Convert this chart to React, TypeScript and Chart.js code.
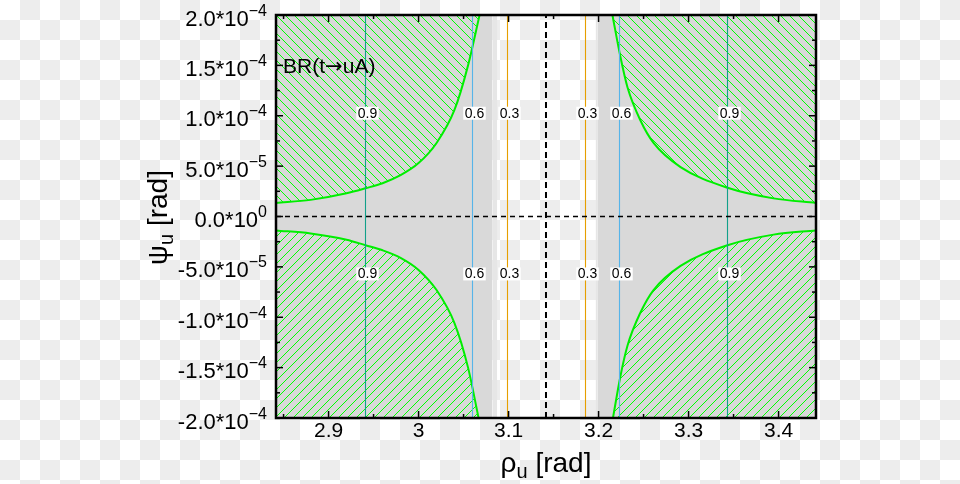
import React, { useEffect, useRef } from 'react';
import { Chart, registerables } from 'chart.js';

Chart.register(...registerables);

const FONT = '"Liberation Sans", Arial, Helvetica, sans-serif';

// ---- axes ----
const xRange = [2.8416, 3.4416];
const yRange = [-2e-4, 2e-4];
const xTickValues = [2.9, 3.0, 3.1, 3.2, 3.3, 3.4];
const xTickLabels = ['2.9', '3', '3.1', '3.2', '3.3', '3.4'];
const xMinorTicks = [2.85, 2.95, 3.05, 3.15, 3.25, 3.35];
const yTickValues = [2e-4, 1.5e-4, 1e-4, 5e-5, 0, -5e-5, -1e-4, -1.5e-4, -2e-4];
const yTickMantissas = ['2.0', '1.5', '1.0', '5.0', '0.0', '-5.0', '-1.0', '-1.5', '-2.0'];
const yTickExponents = ['\u22124', '\u22124', '\u22124', '\u22125', '0', '\u22125', '\u22124', '\u22124', '\u22124'];
const yMinorTicks = [1.75e-4, 1.25e-4, 7.5e-5, 2.5e-5, -2.5e-5, -7.5e-5, -1.25e-4, -1.75e-4];

// ---- shaded bands (excluded region outside central strip) ----
const grayBands = [[2.8416, 3.082], [3.1992, 3.4416]];
const lightBands = [[3.082, 3.0874], [3.1967, 3.1992]];

// ---- boundary curves of the hatched regions ----
const topLeftX = [2.8416, 2.88, 2.92, 2.9411, 2.96, 2.98, 3.0, 3.02, 3.04, 3.055, 3.0678];
const topLeftY = [1.35e-5, 1.65e-5, 2.3e-5, 2.8e-5, 3.3e-5, 4.1e-5, 5.3e-5, 7.3e-5, 1.06e-4, 1.5e-4, 2.0e-4];
const topRightX = [3.2154, 3.2244, 3.2322, 3.2467, 3.2611, 3.2911, 3.3433, 3.3944, 3.4416];
const topRightY = [2.0e-4, 1.58e-4, 1.28e-4, 9.5e-5, 7.3e-5, 4.9e-5, 2.85e-5, 1.8e-5, 1.35e-5];
const bottomLeftX = [2.8416, 2.88, 2.92, 2.9411, 2.96, 2.98, 3.0, 3.02, 3.04, 3.055, 3.0667];
const bottomLeftY = [-1.38e-5, -1.68e-5, -2.3e-5, -2.85e-5, -3.35e-5, -4.1e-5, -5.3e-5, -7.3e-5, -1.06e-4, -1.5e-4, -2.0e-4];
const bottomRightX = [3.216, 3.2244, 3.2322, 3.2467, 3.2611, 3.2911, 3.3433, 3.3944, 3.4416];
const bottomRightY = [-2.0e-4, -1.58e-4, -1.28e-4, -9.5e-5, -7.3e-5, -4.9e-5, -2.85e-5, -1.8e-5, -1.38e-5];

// ---- BR contour lines ----
const contourLevels = ['0.9', '0.6', '0.3', '0.3', '0.6', '0.9'];
const contourX = [2.94104, 3.05993, 3.09882, 3.18549, 3.22327, 3.34327];
const contourLabelY = [1.025e-4, -5.7e-5];
const levelColors: Record<string, string> = { '0.9': '#12a08a', '0.6': '#56b4e9', '0.3': '#e69f00' };

const piValue = 3.14159;
const brParts = ['BR(t', '\u2192', 'uA)'];

function makeHatch(dir: 'down' | 'up', color: string, size: number) {
  const c = document.createElement('canvas');
  c.width = size;
  c.height = size;
  const g = c.getContext('2d')!;
  g.fillStyle = color;
  for (let i = 0; i < size; i++) {
    g.fillRect(dir === 'down' ? i : size - 1 - i, i, 1, 1);
  }
  return g.createPattern(c, 'repeat')!;
}

const pts = (xs: number[], ys: number[]) => xs.map((x, i) => ({ x, y: ys[i] }));

export default function App() {
  const ref = useRef<HTMLCanvasElement>(null);

  useEffect(() => {
    const canvas = ref.current!;
    const hatchDown = makeHatch('down', '#00ff00', 9);
    const hatchUp = makeHatch('up', '#00ff00', 9);
    const none = 'rgba(0,0,0,0)';

    const bandSets = [
      ...grayBands.map(([a, b]) => ({ c: '#d9d9d9', a, b })),
      ...lightBands.map(([a, b]) => ({ c: '#e6e6e6', a, b })),
    ].map((s) => ({
      data: [{ x: s.a, y: yRange[1] }, { x: s.b, y: yRange[1] }],
      fill: 'start',
      backgroundColor: s.c,
      borderColor: none,
      borderWidth: 1,
      pointRadius: 0,
      order: 10,
    }));

    const hatchSet = (xs: number[], ys: number[], fill: string, pat: CanvasPattern) => ({
      data: pts(xs, ys),
      fill,
      backgroundColor: pat,
      borderColor: '#00ee00',
      borderWidth: 2,
      pointRadius: 0,
      cubicInterpolationMode: 'monotone',
      order: 8,
    });

    const contourSets = contourX.map((v, i) => ({
      data: [{ x: v, y: yRange[0] }, { x: v, y: yRange[1] }],
      fill: false,
      borderColor: levelColors[contourLevels[i]],
      borderWidth: 1.1,
      pointRadius: 0,
      order: 5,
    }));

    const dashedSets = [
      {
        data: [{ x: xRange[0], y: 0 }, { x: xRange[1], y: 0 }],
        fill: false,
        borderColor: '#000',
        borderWidth: 1.5,
        borderDash: [5, 4],
        pointRadius: 0,
        order: 1,
      },
      {
        data: [{ x: piValue, y: yRange[0] }, { x: piValue, y: yRange[1] }],
        fill: false,
        borderColor: '#000',
        borderWidth: 2,
        borderDash: [6, 4],
        pointRadius: 0,
        order: 1,
      },
    ];

    const overlay = {
      id: 'overlay',
      afterDatasetsDraw(chart: any) {
        const ctx: CanvasRenderingContext2D = chart.ctx;
        const xs = chart.scales.x;
        const ys = chart.scales.y;
        const a = chart.chartArea;
        ctx.save();
        // contour labels
        ctx.font = `14px ${FONT}`;
        ctx.textAlign = 'center';
        ctx.textBaseline = 'middle';
        contourX.forEach((v, i) => {
          const px = xs.getPixelForValue(v) + 2;
          contourLabelY.forEach((lv) => {
            const py = ys.getPixelForValue(lv);
            const t = contourLevels[i];
            const w = ctx.measureText(t).width;
            ctx.fillStyle = '#fff';
            ctx.fillRect(px - w / 2 - 1.5, py - 6.5, w + 3, 13);
            ctx.fillStyle = '#000';
            ctx.fillText(t, px, py + 0.5);
          });
        });
        // BR label
        ctx.textAlign = 'left';
        ctx.fillStyle = '#000';
        let bx = xs.getPixelForValue(2.8495);
        const by = ys.getPixelForValue(1.48e-4);
        brParts.forEach((t, i) => {
          ctx.font = i === 1 ? `21px "DejaVu Sans", ${FONT}` : `21px ${FONT}`;
          ctx.fillText(t, bx, by);
          bx += ctx.measureText(t).width;
        });

        // frame
        ctx.strokeStyle = '#000';
        ctx.lineWidth = 2.5;
        ctx.strokeRect(a.left, a.top, a.right - a.left, a.bottom - a.top);
        // ticks (inward, mirrored)
        ctx.lineWidth = 1.5;
        const seg = (x1: number, y1: number, x2: number, y2: number) => {
          ctx.beginPath();
          ctx.moveTo(x1, y1);
          ctx.lineTo(x2, y2);
          ctx.stroke();
        };
        xTickValues.forEach((v) => {
          const p = xs.getPixelForValue(v);
          seg(p, a.bottom, p, a.bottom - 7);
          seg(p, a.top, p, a.top + 7);
        });
        xMinorTicks.forEach((v) => {
          const p = xs.getPixelForValue(v);
          seg(p, a.bottom, p, a.bottom - 4);
          seg(p, a.top, p, a.top + 4);
        });
        yTickValues.forEach((v) => {
          const p = ys.getPixelForValue(v);
          seg(a.left, p, a.left + 7, p);
          seg(a.right, p, a.right - 7, p);
        });
        yMinorTicks.forEach((v) => {
          const p = ys.getPixelForValue(v);
          seg(a.left, p, a.left + 4, p);
          seg(a.right, p, a.right - 4, p);
        });

        // y tick labels with exponents
        ctx.fillStyle = '#000';
        ctx.textBaseline = 'alphabetic';
        yTickValues.forEach((v, i) => {
          const py = ys.getPixelForValue(v);
          const exp = yTickExponents[i];
          ctx.font = `16px ${FONT}`;
          const ew = ctx.measureText(exp).width;
          const right = a.left - 9;
          ctx.textAlign = 'left';
          ctx.fillText(exp, right - ew, py + 0.5);
          ctx.font = `22px ${FONT}`;
          ctx.textAlign = 'right';
          ctx.fillText(yTickMantissas[i] + '*10', right - ew, py + 10.5);
        });

        // axis titles
        const drawSub = (main: string, sub: string, rest: string) => {
          ctx.font = `28px ${FONT}`;
          const w1 = ctx.measureText(main).width;
          const w3 = ctx.measureText(rest).width;
          ctx.font = `20px ${FONT}`;
          const w2 = ctx.measureText(sub).width;
          const total = w1 + w2 + w3;
          let x = -total / 2;
          ctx.textAlign = 'left';
          ctx.font = `28px ${FONT}`;
          ctx.fillText(main, x, 0);
          x += w1;
          ctx.font = `20px ${FONT}`;
          ctx.fillText(sub, x, 6);
          x += w2;
          ctx.font = `28px ${FONT}`;
          ctx.fillText(rest, x, 0);
        };
        ctx.save();
        ctx.translate((a.left + a.right) / 2, 472);
        drawSub('\u03c1', 'u', ' [rad]');
        ctx.restore();
        ctx.save();
        ctx.translate(167, (a.top + a.bottom) / 2 + 1);
        ctx.rotate(-Math.PI / 2);
        drawSub('\u03c8', 'u', ' [rad]');
        ctx.restore();

        ctx.restore();
      },
    };

    const chart = new Chart(canvas, {
      type: 'line',
      data: {
        datasets: [
          ...dashedSets,
          ...contourSets,
          hatchSet(topLeftX, topLeftY, 'end', hatchDown),
          hatchSet(topRightX, topRightY, 'end', hatchDown),
          hatchSet(bottomLeftX, bottomLeftY, 'start', hatchUp),
          hatchSet(bottomRightX, bottomRightY, 'start', hatchUp),
          ...bandSets,
        ] as any,
      },
      options: {
        animation: false,
        responsive: true,
        maintainAspectRatio: false,
        events: [],
        layout: { padding: { left: 0, top: 15, right: 144, bottom: 0 } },
        plugins: { legend: { display: false }, tooltip: { enabled: false } },
        scales: {
          x: {
            type: 'linear',
            min: xRange[0],
            max: xRange[1],
            afterBuildTicks: (s: any) => {
              s.ticks = xTickValues.map((v) => ({ value: v }));
            },
            afterFit: (s: any) => {
              s.height = 66;
            },
            grid: { display: false, drawTicks: false },
            border: { display: false },
            ticks: {
              autoSkip: false,
              maxRotation: 0,
              padding: 1,
              color: '#000',
              font: { family: FONT, size: 21 },
              callback: (v: any) => {
                const i = xTickValues.findIndex((t) => Math.abs(t - Number(v)) < 1e-9);
                return i >= 0 ? xTickLabels[i] : '';
              },
            },
          },
          y: {
            type: 'linear',
            min: yRange[0],
            max: yRange[1],
            afterBuildTicks: (s: any) => {
              s.ticks = yTickValues.map((v) => ({ value: v }));
            },
            afterFit: (s: any) => {
              s.width = 276;
            },
            grid: { display: false, drawTicks: false },
            border: { display: false },
            ticks: { display: false },
          },
        },
      } as any,
      plugins: [overlay],
    });
    return () => chart.destroy();
  }, []);

  return (
    <div
      style={{
        position: 'fixed',
        left: 0,
        top: 0,
        width: 960,
        height: 484,
        background: 'repeating-conic-gradient(#ededed 0% 25%, #ffffff 0% 50%) 0 0 / 40px 40px',
      }}
    >
      <canvas ref={ref} />
    </div>
  );
}
